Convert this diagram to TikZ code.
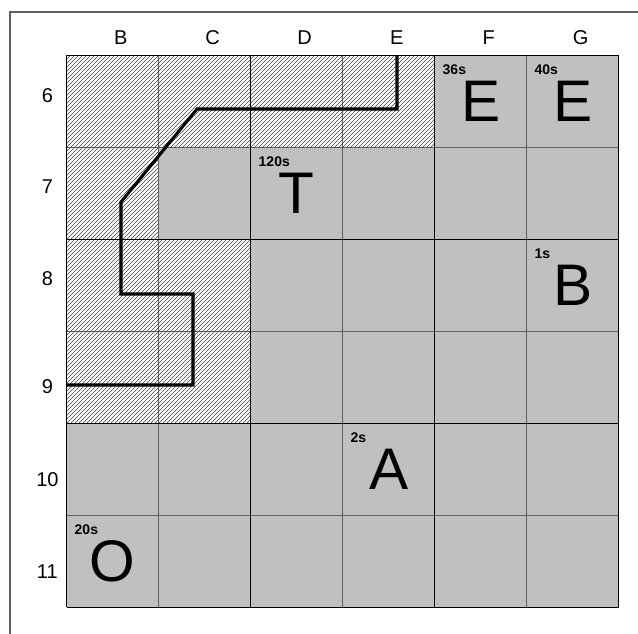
\documentclass[tikz,border=0pt]{standalone}
\usepackage{fontspec}
\setmainfont{Liberation Sans}
\usepackage{tikz}
\usetikzlibrary{patterns}
\definecolor{cellGray}{RGB}{192,192,192}
\definecolor{minorLine}{RGB}{96,96,96}
\definecolor{hatchLine}{RGB}{70,70,70}

\begin{document}
\begin{tikzpicture}[x=69pt, y=69pt,
    letter/.style={font=\fontsize{44}{44}\selectfont, inner sep=0pt},
    timelabel/.style={font=\fontsize{10.5}{12}\selectfont\bfseries, anchor=north west, inner sep=0pt},
    axislabel/.style={font=\fontsize{15}{18}\selectfont},
    majorline/.style={line width=0.8pt},
    minorline/.style={minorLine, line width=0.8pt}]
  \useasboundingbox (-0.725,-0.29) rectangle (6.21,6.601);

  % Frame
  \draw[minorLine, line width=1.1pt] (-0.616,-0.29) -- (-0.616,6.471) -- (6.21,6.471);

  % Cells
  \fill[cellGray] (0,0) rectangle (6,6);
  \foreach \c/\r in {0/0,1/0,2/0,3/0,0/1,0/2,1/2,0/3,1/3}
    \fill[white] (\c,5-\r) rectangle ++(1,1);

  % Minor grid lines
  \foreach \k in {1,3,5} {
    \draw[minorline] (\k,0) -- (\k,6);
    \draw[minorline] (0,\k) -- (6,\k);
  }

  % Hatched cells
  \foreach \c/\r in {0/0,1/0,2/0,3/0,0/1,0/2,1/2,0/3,1/3}
    \fill[pattern=north east lines, pattern color=hatchLine] (\c,5-\r) rectangle ++(1,1);

  % Major grid lines
  \foreach \k in {0,2,4,6} {
    \draw[majorline] (\k,0) -- (\k,6);
    \draw[majorline] (0,\k) -- (6,\k);
  }

  % Column and row labels
  \foreach \cell [count=\i from 0] in {B,C,D,E,F,G}
    \node[axislabel] (col\cell) at (\i+0.587,6.188) {\cell};
  \foreach \cell/\y in {6/5.558,7/4.568,8/3.568,9/2.395,10/1.384,11/0.384}
    \node[axislabel] (row\cell) at (-0.21,\y) {\cell};

  % Letters and times
  \foreach \cell/\c/\r/\txt/\secs in {F6/4/0/E/36s, G6/5/0/E/40s, D7/2/1/T/120s,
                                    G8/5/2/B/1s, E10/3/4/A/2s, B11/0/5/O/20s} {
    \node[letter] (big\cell) at (\c+0.5,5.5-\r) {\txt};
    \node[timelabel] (time\cell) at (\c+0.084,5.895-\r) {\secs};
  }

  % Route
  \draw[line width=2.3pt] (3.59,6) -- (3.59,5.416) -- (1.416,5.416) -- (0.59,4.405)
    -- (0.59,3.405) -- (1.373,3.405) -- (1.373,2.416) -- (0,2.416);
\end{tikzpicture}
\end{document}
